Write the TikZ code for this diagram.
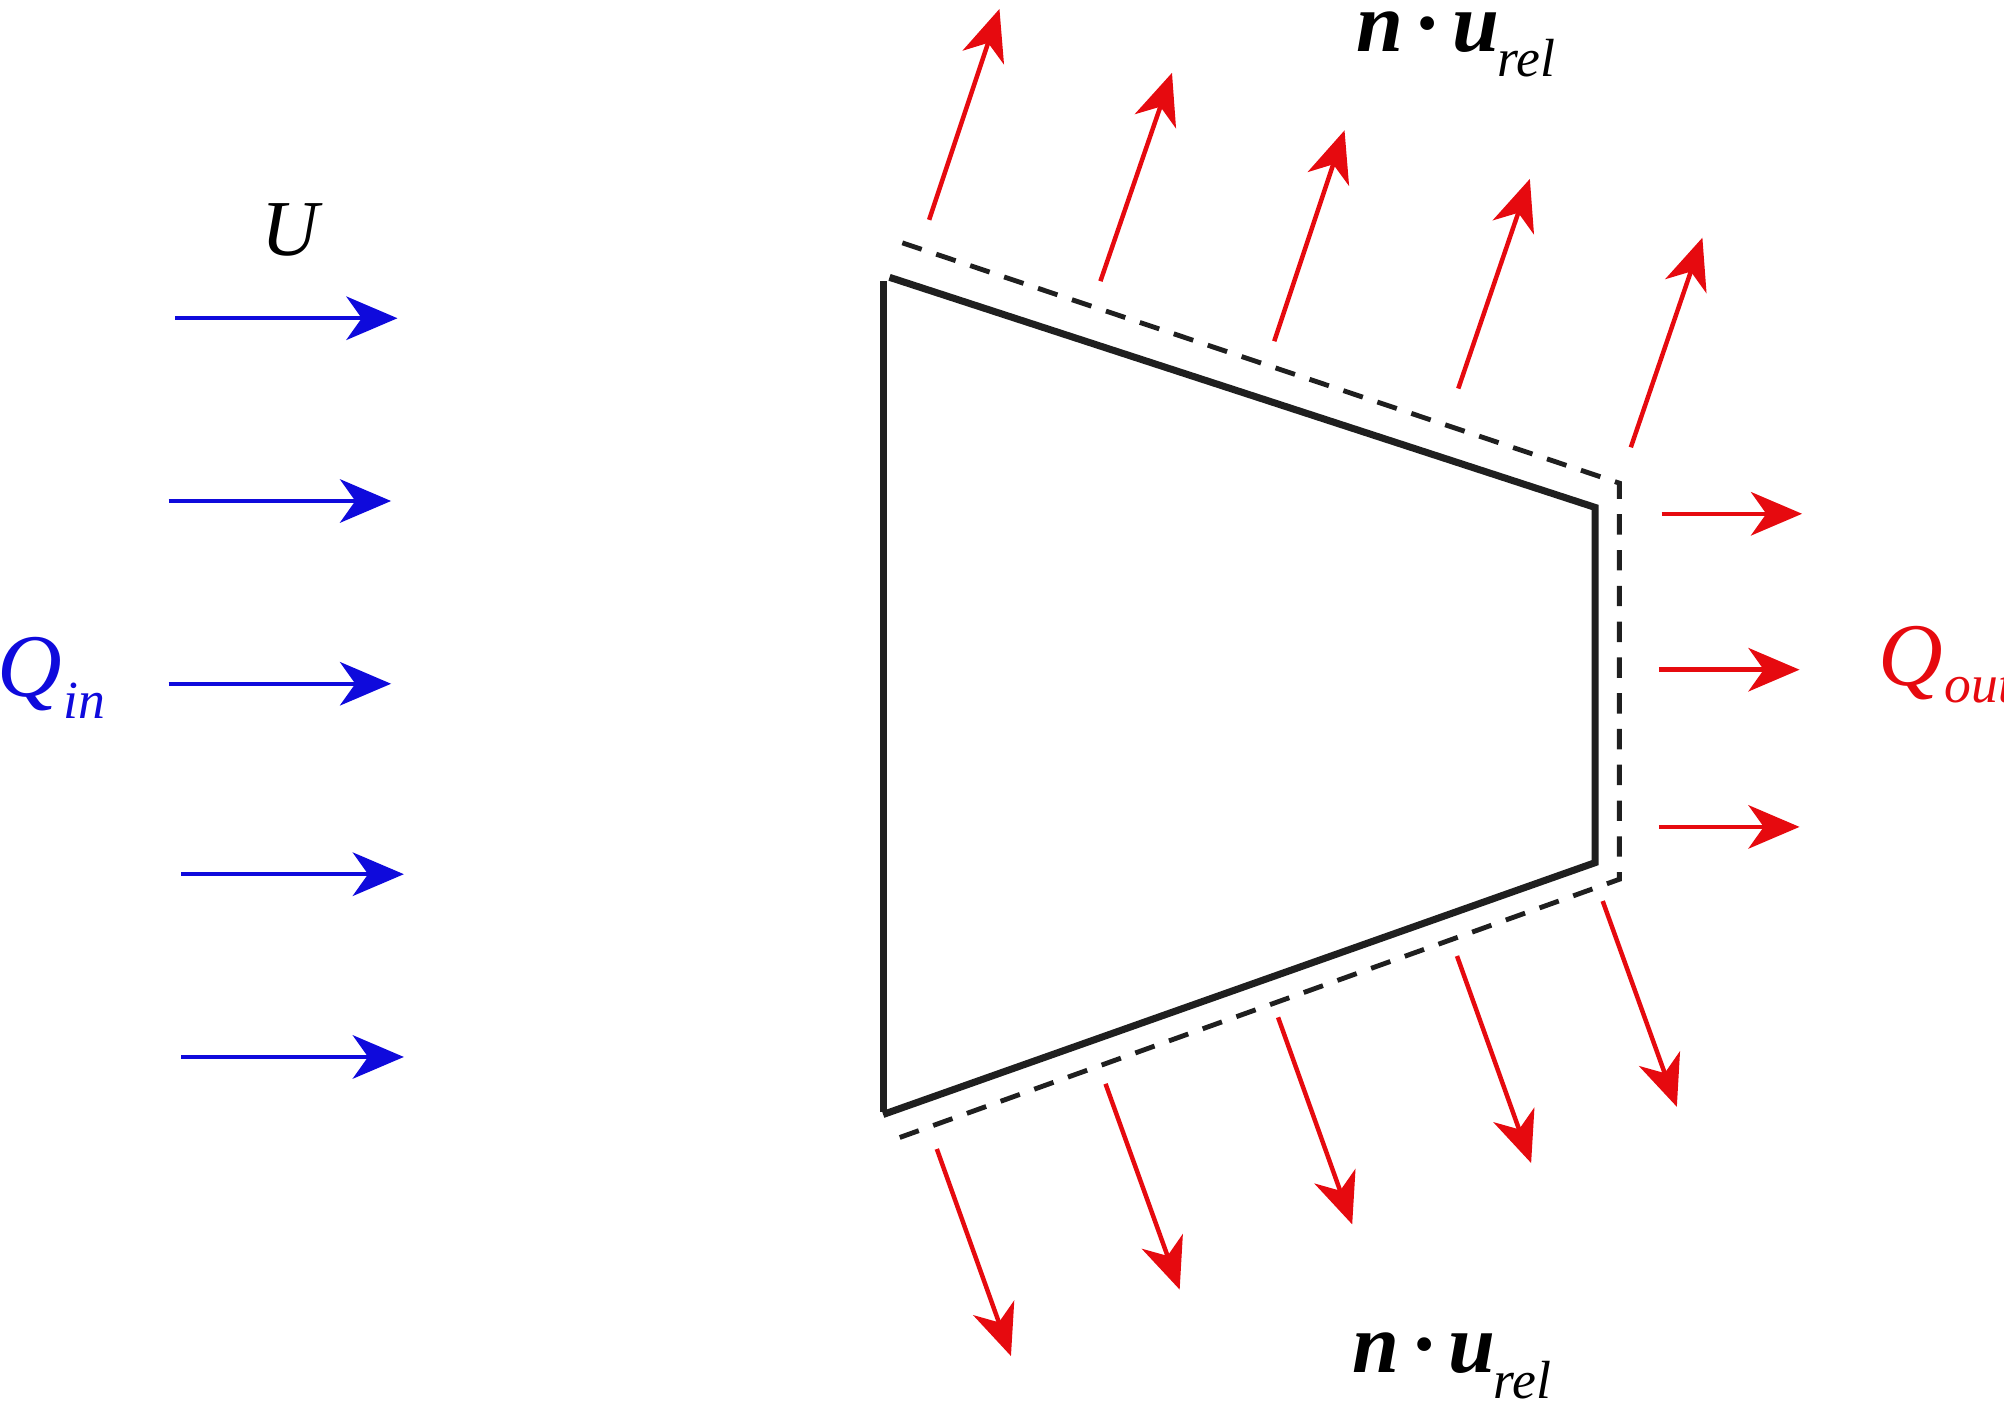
\documentclass[tikz,border=0pt]{standalone}
\usepackage{fontspec}
\setmainfont{Liberation Serif}
\usetikzlibrary{arrows.meta}
\definecolor{myred}{RGB}{230,10,15}
\definecolor{myblue}{RGB}{15,10,220}
\begin{document}
\begin{tikzpicture}[x=1pt,y=-1pt,
  arr/.style={line width=3.5pt,-{Stealth[length=40pt,width=34pt,inset=12pt]}},
  redarr/.style={arr,myred}, bluarr/.style={arr,myblue},
  wall/.style={line width=5.5pt,black!88},
  dashwall/.style={line width=3.8pt,black!88,dash pattern=on 16pt off 12pt},
  big/.style={font=\fontsize{70}{80}\selectfont\itshape},
  sub/.style={font=\fontsize{42}{48}\selectfont\itshape}]
\useasboundingbox (0,0) rectangle (1568,1102);
\draw[wall] (691,220) -- (691,870);
\draw[wall] (696,217) -- (1248,397) -- (1248,675) -- (691,872);
\draw[dashwall] (706,190) -- (1267,378) -- (1267,688) -- (704,890);
\foreach \a/\b/\c/\d in {727/172/782/7, 861/220/917/57, 997/267/1052/102, 1141/304/1197/140, 1276/350/1332/186,
  1300/402/1410/402, 1298/524/1408/524, 1298/647/1408/647,
  1254/705/1312/866, 1140/748/1198/910, 1000/796/1058/958, 865/848/923/1009, 733/899/791/1061}
  \draw[redarr] (\a,\b) -- (\c,\d);
\foreach \a/\b/\c in {137/249/311, 132/392/306, 132/535/306, 142/684/316, 142/827/316}
  \draw[bluarr] (\a,\b) -- (\c,\b);
\node[big,font=\fontsize{62}{70}\selectfont\itshape] (U) at (227,180) {U};
\node[big,myblue,anchor=base east] (Qi) at (52,545) {Q};
\node[sub,myblue,anchor=base west] (Qis) at (46,562) {in};
\node[big,myred,anchor=base east] (Qo) at (1524,536) {Q};
\node[sub,myred,anchor=base west] (Qos) at (1518,550) {out};
\node[anchor=base,font=\fontsize{66}{70}\selectfont\bfseries\itshape] (t) at (1117,40) {n\,·\,u};
\node[sub,anchor=base west] (ts) at (1168,60) {rel};
\node[anchor=base,font=\fontsize{66}{70}\selectfont\bfseries\itshape] (b) at (1114,1074) {n\,·\,u};
\node[sub,anchor=base west] (bs) at (1165,1094) {rel};
\end{tikzpicture}
\end{document}
